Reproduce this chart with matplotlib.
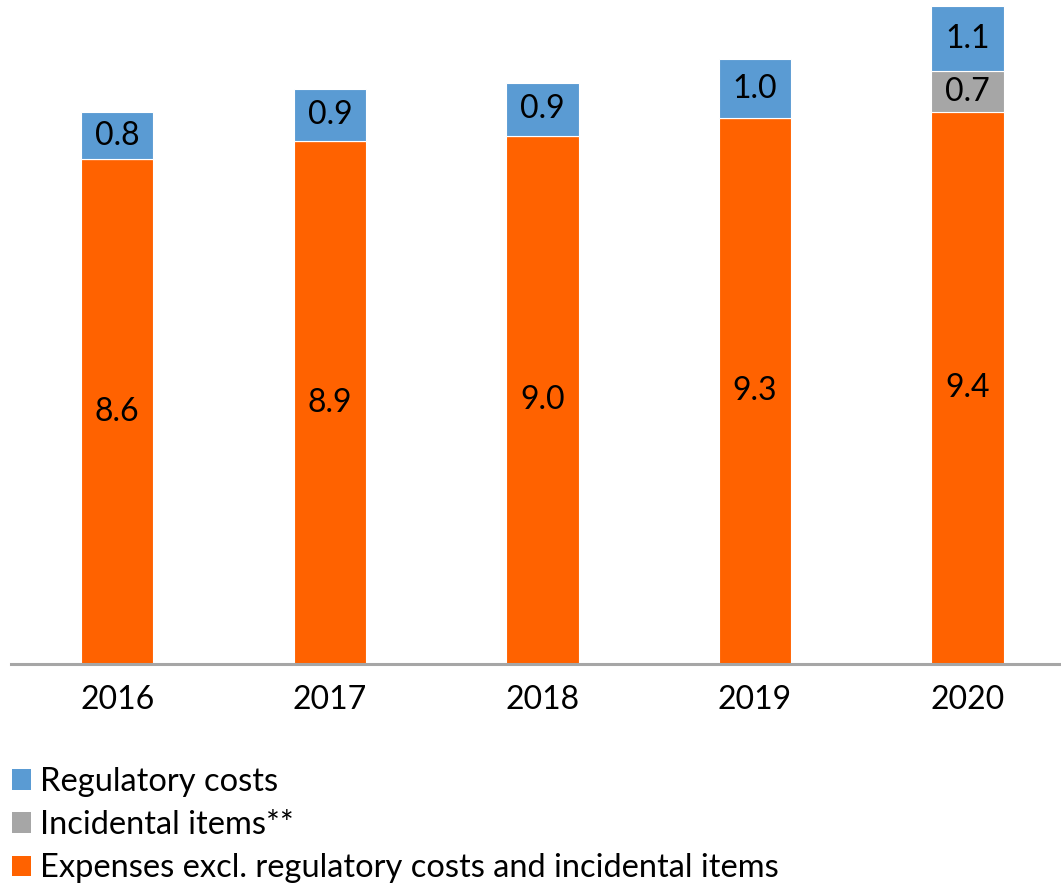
import numpy as np
import matplotlib
matplotlib.use("Agg")
import matplotlib.pyplot as plt
from matplotlib.patches import Patch

plt.rcParams["font.family"] = ["Lato", "DejaVu Sans"]

# ---------------------------------------------------------------------------
# Data (EUR bn)
# ---------------------------------------------------------------------------
years = ["2016", "2017", "2018", "2019", "2020"]
expenses = [8.6, 8.9, 9.0, 9.3, 9.4]
incidental = [0.0, 0.0, 0.0, 0.0, 0.7]
regulatory = [0.8, 0.9, 0.9, 1.0, 1.1]

ORANGE = "#FF6200"
GREY = "#A6A6A6"
BLUE = "#5A9BD3"
FS = 23

fig = plt.figure(figsize=(10.61, 8.85), dpi=100)
ax = fig.add_axes([0.0104, 0.2497, 0.9896, 0.7503])

x = np.arange(len(years))
width = 0.34
exp = np.array(expenses)
inc = np.array(incidental)
reg = np.array(regulatory)

ax.bar(x, exp, width, color=ORANGE, edgecolor="white", linewidth=0.8)
ax.bar(x, inc, width, bottom=exp, color=GREY, edgecolor="white", linewidth=0.8)
ax.bar(x, reg, width, bottom=exp + inc, color=BLUE, edgecolor="white", linewidth=0.8)

# segment labels
for i in range(len(years)):
    ax.text(x[i], exp[i] / 2, f"{exp[i]:.1f}", ha="center", va="center", fontsize=FS)
    if inc[i] > 0:
        ax.text(x[i], exp[i] + inc[i] / 2, f"{inc[i]:.1f}", ha="center", va="center", fontsize=FS)
    ax.text(x[i], exp[i] + inc[i] + reg[i] / 2, f"{reg[i]:.1f}", ha="center", va="center", fontsize=FS)

ax.set_xlim(-0.5, 4.44)
ax.set_ylim(0, 11.31)
ax.set_xticks(x)
ax.set_xticklabels(years, fontsize=FS)
ax.tick_params(axis="x", length=0, pad=15)
ax.set_yticks([])
for side in ["top", "right", "left"]:
    ax.spines[side].set_visible(False)
ax.spines["bottom"].set_color(GREY)
ax.spines["bottom"].set_linewidth(2.2)

handles = [
    Patch(facecolor=BLUE, label="Regulatory costs"),
    Patch(facecolor=GREY, label="Incidental items**"),
    Patch(facecolor=ORANGE, label="Expenses excl. regulatory costs and incidental items"),
]
fig.legend(handles=handles, loc="upper left", bbox_to_anchor=(0.011, 0.133),
           frameon=False, fontsize=23.5, handlelength=0.6, handleheight=0.6,
           handletextpad=0.28, labelspacing=0.4, borderpad=0, borderaxespad=0)

fig.savefig("out.png", dpi=100)
